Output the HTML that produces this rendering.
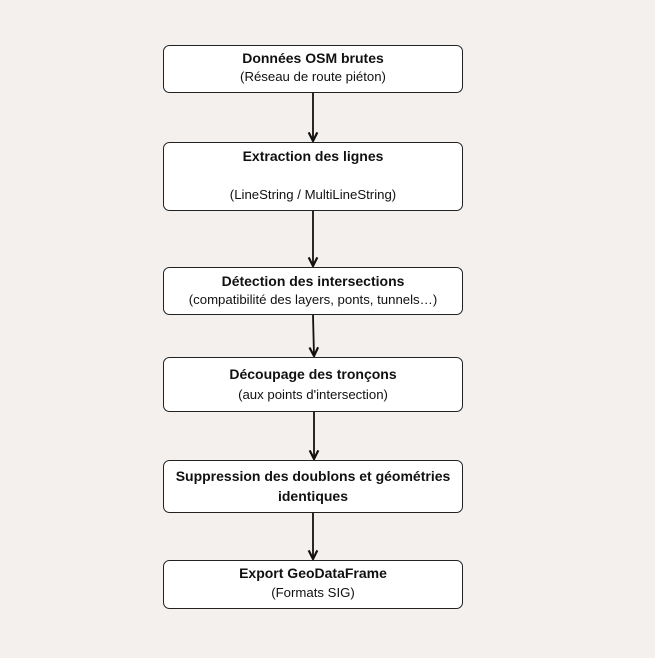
<!DOCTYPE html>
<html><head><meta charset="utf-8"><style>
html,body{margin:0;padding:0;background:#f4f0ed;}
svg{display:block}
text{font-family:"Liberation Sans",sans-serif;font-size:13.2px;fill:#111;text-anchor:middle}
.b{font-weight:bold;font-size:14px}
rect{fill:#fff;stroke:#222;stroke-width:1}
line{stroke:#111;stroke-width:1.8}
</style></head><body>
<svg width="655" height="658" viewBox="0 0 655 658">
<defs><marker id="a" viewBox="0 0 10 10" refX="9" refY="5" markerWidth="6" markerHeight="6" orient="auto"><path d="M1,1 L9,5 L1,9" fill="none" stroke="#111" stroke-width="2"/></marker></defs>
<rect x="163.5" y="45.5" width="299" height="47" rx="6"/>
<text class="b" x="313" y="63">Données OSM brutes</text>
<text x="313" y="81">(Réseau de route piéton)</text>
<line x1="313" y1="93" x2="313" y2="141" marker-end="url(#a)"/>
<rect x="163.5" y="142.5" width="299" height="68" rx="6"/>
<text class="b" x="313" y="161">Extraction des lignes</text>
<text x="313" y="199">(LineString / MultiLineString)</text>
<line x1="313" y1="211" x2="313" y2="266" marker-end="url(#a)"/>
<rect x="163.5" y="267.5" width="299" height="47" rx="6"/>
<text class="b" x="313" y="286">Détection des intersections</text>
<text x="313" y="304">(compatibilité des layers, ponts, tunnels…)</text>
<line x1="313" y1="315" x2="314" y2="356" marker-end="url(#a)"/>
<rect x="163.5" y="357.5" width="299" height="54" rx="6"/>
<text class="b" x="313" y="379">Découpage des tronçons</text>
<text x="313" y="399">(aux points d'intersection)</text>
<line x1="314" y1="412" x2="314" y2="459" marker-end="url(#a)"/>
<rect x="163.5" y="460.5" width="299" height="52" rx="6"/>
<text class="b" x="313" y="481">Suppression des doublons et géométries</text>
<text class="b" x="313" y="501">identiques</text>
<line x1="313" y1="513" x2="313" y2="559" marker-end="url(#a)"/>
<rect x="163.5" y="560.5" width="299" height="48" rx="6"/>
<text class="b" x="313" y="578">Export GeoDataFrame</text>
<text x="313" y="597">(Formats SIG)</text>
</svg>
</body></html>
